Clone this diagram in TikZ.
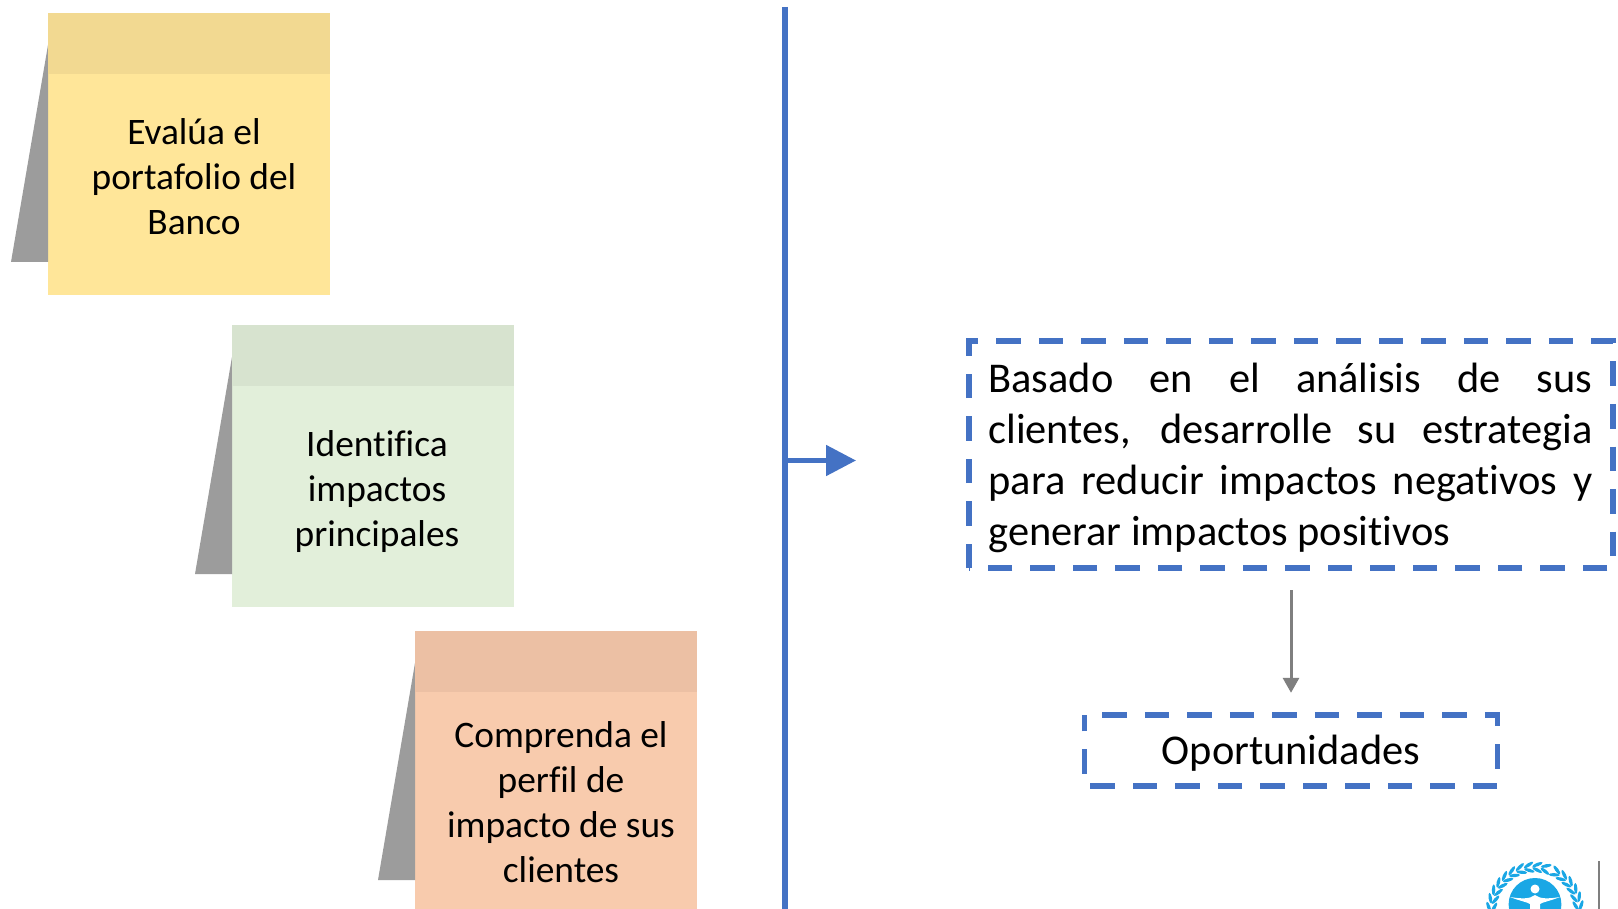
\documentclass[tikz,border=0pt]{standalone}
\usepackage{fontspec}
\setmainfont[Ligatures=NoCommon]{Carlito}
\usetikzlibrary{calc,arrows.meta}
\definecolor{ubl}{HTML}{4472C4}
\definecolor{ugr}{HTML}{7F7F7F}
\definecolor{ush}{HTML}{9C9C9C}
\definecolor{yel}{HTML}{FFE699}
\definecolor{yelb}{HTML}{F2D991}
\definecolor{grn}{HTML}{E2EFDA}
\definecolor{grnb}{HTML}{D7E3CF}
\definecolor{org}{HTML}{F8CBAD}
\definecolor{orgb}{HTML}{ECC0A4}
\definecolor{logob}{HTML}{1AA7E5}
\tikzset{
  x=1pt,y=-1pt,
  note/.style={minimum width=282pt,minimum height=282pt,inner sep=0pt,outer sep=0pt,anchor=north west,fill=#1},
  band/.style={fill=#1},
  shadowtri/.style={fill=ush},
  notetext/.style={align=center,inner sep=0pt,font=\fontsize{37.4}{45}\selectfont},
  dashbox/.style={draw=ubl,line width=5.5pt,dash pattern=on 24.5pt off 18pt,line join=miter},
  boxtext/.style={inner sep=0pt,outer sep=0pt,font=\fontsize{42.4}{51}\selectfont},
  leaf/.style={fill=logob},
}
\begin{document}
\begin{tikzpicture}
\useasboundingbox (0,0) rectangle (1618,909);
\clip (0,0) rectangle (1618,909);
\fill[white] (0,0) rectangle (1618,909);

% sticky notes
\foreach \nm/\px/\py/\fc/\bc in {a/48/13/yel/yelb,b/232/325/grn/grnb,c/415/631/org/orgb}{
  \node[note=\fc] (\nm) at (\px,\py) {};
  \fill[shadowtri] ($(\nm.north west)+(0,32)$) -- ($(\nm.north west)+(-37,249)$) -- ($(\nm.north west)+(0,249)$) -- cycle;
  \fill[band=\bc] (\nm.north west) rectangle ($(\nm.north east)+(0,61)$);
}
\node[notetext] (ta) at (194,176.5) {Evalúa el\\portafolio del\\Banco};
\node[notetext] (tb) at (377,491.5) {Identifica\\impactos\\principales};
\node[notetext] (tc) at (561,802.5) {Comprenda el\\perfil de\\impacto de sus\\clientes};

% divider and arrow
\coordinate (vt) at (785,7);
\coordinate (vb) at (785,909);
\coordinate (vm) at (785,460.5);
\coordinate (vh) at (856,460.5);
\draw[ubl,line width=6pt] (vt) -- (vb);
\draw[ubl,line width=5pt,-{Triangle[length=30pt,width=30pt]}] (vm) -- (vh);

% text boxes
\node[minimum width=644pt,minimum height=227pt,inner sep=0pt] (b1) at (1291,454.5) {};
\node[boxtext,text width=604pt,align=justify] (t1) at (1290.5,458) {\hyphenpenalty=10000\emergencystretch=60pt Basado en el análisis de sus\linebreak clientes, desarrolle su estrategia\linebreak para reducir impactos negativos y\linebreak generar impactos positivos};
\draw[dashbox] (b1.south west) -- (b1.north west) -- (b1.north east) -- (b1.south east) -- cycle;

\node[minimum width=413pt,minimum height=71pt,inner sep=0pt] (b2) at (1291,750.5) {};
\node[boxtext] (t2) at (1291,753.5) {Oportunidades};
\draw[dashbox,dash phase=24.5pt] (b2.north west) -- (b2.north east) -- (b2.south east) -- (b2.south west) -- cycle;

\draw[ugr,line width=3pt,-{Triangle[length=15pt,width=16pt]},shorten <=22pt,shorten >=22pt] (b1.south) -- (b1.south |- b2.north);

% logo
\fill[logob] (1535,904.4) circle (26.4);
\fill[white] (1535,889) circle (4.5);
\fill[white] (1510,897) .. controls (1522,899) and (1530,899) .. (1535,895) .. controls (1540,899) and (1548,899) .. (1560,897) .. controls (1550,901) and (1543,902) .. (1540,904) -- (1540,909) -- (1530,909) -- (1530,904) .. controls (1527,902) and (1520,901) .. (1510,897) -- cycle;
\foreach \ang in {76,87,98,109,120,131,142,153,164,175}{
  \fill[leaf] ({1535+cos(\ang)*46.5},{911-sin(\ang)*46.5}) ellipse [x radius=5.5,y radius=1.7,rotate={\ang-65}];
  \fill[leaf] ({1535+cos(\ang)*41},{911-sin(\ang)*41}) ellipse [x radius=5.5,y radius=1.7,rotate={\ang-115}];
}
\foreach \ang in {62,51,40,29,18,7}{
  \fill[leaf] ({1535+cos(\ang)*46.5},{911-sin(\ang)*46.5}) ellipse [x radius=5.5,y radius=1.7,rotate={\ang+65}];
  \fill[leaf] ({1535+cos(\ang)*41},{911-sin(\ang)*41}) ellipse [x radius=5.5,y radius=1.7,rotate={\ang+115}];
}
\coordinate (lt) at (1599,861);
\coordinate (lb) at (1599,909);
\draw[ugr,line width=1.5pt] (lt) -- (lb);
\end{tikzpicture}
\end{document}
